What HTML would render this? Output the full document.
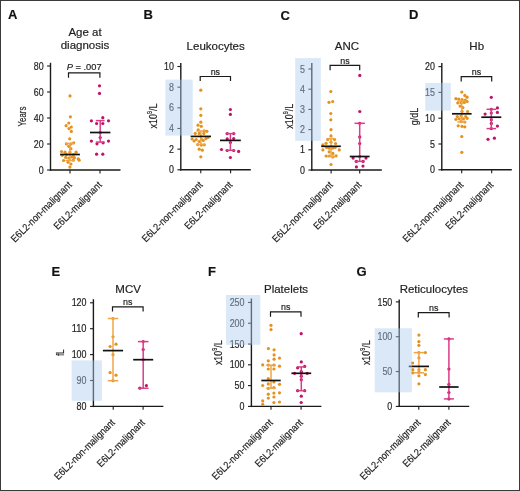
<!DOCTYPE html>
<html><head><meta charset="utf-8"><style>
html,body{margin:0;padding:0;background:#fff;}
body{width:520px;height:491px;overflow:hidden;position:relative;}
svg{position:absolute;left:0;top:0;will-change:transform;}
text{font-family:"Liberation Sans", sans-serif;fill:#222;stroke:#222;stroke-width:0.18px;}
.L{font-size:13px;font-weight:bold;fill:#111;}
.T{font-size:11.5px;}
.K{font-size:10.3px;}
.N{font-size:9.3px;}
.N2{font-size:8.9px;}
.Y{font-size:10.8px;}
.X{font-size:10.2px;}
.ax{stroke:#1a1a1a;stroke-width:1.4;fill:none;}
.tk{stroke:#1a1a1a;stroke-width:1.1;}
.br{stroke:#1a1a1a;stroke-width:1.2;fill:none;}
</style></head><body>
<svg width="520" height="491" viewBox="0 0 520 491">
<rect x="0.5" y="0.5" width="519" height="490" fill="#fff" stroke="#3a3a3a" stroke-width="1"/>
<text x="8" y="19.3" class="L">A</text>
<text x="85" y="36.4" class="T" text-anchor="middle">Age at</text>
<text x="85" y="49.2" class="T" text-anchor="middle">diagnosis</text>
<line x1="50.5" y1="62.8" x2="50.5" y2="170.7" class="ax"/>
<line x1="49.8" y1="170" x2="120.5" y2="170" class="ax"/>
<line x1="47.1" y1="170" x2="50.5" y2="170" class="tk"/>
<text x="43.6" y="173.6" class="K" text-anchor="end" textLength="4.95" lengthAdjust="spacingAndGlyphs">0</text>
<line x1="47.1" y1="144" x2="50.5" y2="144" class="tk"/>
<text x="43.6" y="147.6" class="K" text-anchor="end" textLength="9.9" lengthAdjust="spacingAndGlyphs">20</text>
<line x1="47.1" y1="118" x2="50.5" y2="118" class="tk"/>
<text x="43.6" y="121.6" class="K" text-anchor="end" textLength="9.9" lengthAdjust="spacingAndGlyphs">40</text>
<line x1="47.1" y1="92" x2="50.5" y2="92" class="tk"/>
<text x="43.6" y="95.6" class="K" text-anchor="end" textLength="9.9" lengthAdjust="spacingAndGlyphs">60</text>
<line x1="47.1" y1="66" x2="50.5" y2="66" class="tk"/>
<text x="43.6" y="69.6" class="K" text-anchor="end" textLength="9.9" lengthAdjust="spacingAndGlyphs">80</text>
<line x1="70" y1="170" x2="70" y2="173.4" class="tk"/>
<line x1="100" y1="170" x2="100" y2="173.4" class="tk"/>
<text transform="translate(26.3,116.5) rotate(-90)" class="Y" text-anchor="middle" textLength="19.8" lengthAdjust="spacingAndGlyphs">Years</text>
<text transform="translate(72.4,185.6) rotate(-45)" class="X" text-anchor="end" textLength="81.0" lengthAdjust="spacingAndGlyphs">E6L2-non-malignant</text>
<text transform="translate(102.4,185.6) rotate(-45)" class="X" text-anchor="end" textLength="63.0" lengthAdjust="spacingAndGlyphs">E6L2-malignant</text>
<path d="M68.5 77.7V72.9H99.9V77.7" class="br"/>
<text x="84.2" y="70.1" class="N" text-anchor="middle"><tspan font-style="italic">P</tspan> = .007</text>
<text x="143.6" y="19.3" class="L">B</text>
<text x="215.7" y="49.5" class="T" text-anchor="middle">Leukocytes</text>
<line x1="180.8" y1="63" x2="180.8" y2="170.5" class="ax"/>
<line x1="180.1" y1="169.8" x2="250.8" y2="169.8" class="ax"/>
<line x1="177.4" y1="169.8" x2="180.8" y2="169.8" class="tk"/>
<text x="173.9" y="173.4" class="K" text-anchor="end" textLength="4.95" lengthAdjust="spacingAndGlyphs">0</text>
<line x1="177.4" y1="149.14" x2="180.8" y2="149.14" class="tk"/>
<text x="173.9" y="152.74" class="K" text-anchor="end" textLength="4.95" lengthAdjust="spacingAndGlyphs">2</text>
<line x1="177.4" y1="128.48" x2="180.8" y2="128.48" class="tk"/>
<text x="173.9" y="132.08" class="K" text-anchor="end" textLength="4.95" lengthAdjust="spacingAndGlyphs">4</text>
<line x1="177.4" y1="107.82" x2="180.8" y2="107.82" class="tk"/>
<text x="173.9" y="111.42" class="K" text-anchor="end" textLength="4.95" lengthAdjust="spacingAndGlyphs">6</text>
<line x1="177.4" y1="87.16" x2="180.8" y2="87.16" class="tk"/>
<text x="173.9" y="90.76" class="K" text-anchor="end" textLength="4.95" lengthAdjust="spacingAndGlyphs">8</text>
<line x1="177.4" y1="66.5" x2="180.8" y2="66.5" class="tk"/>
<text x="173.9" y="70.1" class="K" text-anchor="end" textLength="9.9" lengthAdjust="spacingAndGlyphs">10</text>
<line x1="200.8" y1="169.8" x2="200.8" y2="173.2" class="tk"/>
<line x1="230.6" y1="169.8" x2="230.6" y2="173.2" class="tk"/>
<text transform="translate(157,116) rotate(-90)" class="Y" text-anchor="middle" textLength="24.8" lengthAdjust="spacingAndGlyphs">x10<tspan dy="-4.6" font-size="6.6">9</tspan><tspan dy="4.6">/L</tspan></text>
<text transform="translate(203.2,185.4) rotate(-45)" class="X" text-anchor="end" textLength="81.0" lengthAdjust="spacingAndGlyphs">E6L2-non-malignant</text>
<text transform="translate(233,185.4) rotate(-45)" class="X" text-anchor="end" textLength="63.0" lengthAdjust="spacingAndGlyphs">E6L2-malignant</text>
<path d="M200.2 81V76.5H230.5V81" class="br"/>
<text x="215.35" y="74.8" class="N2" text-anchor="middle">ns</text>
<text x="280.4" y="19.5" class="L">C</text>
<text x="346.9" y="49.5" class="T" text-anchor="middle">ANC</text>
<line x1="311.8" y1="63" x2="311.8" y2="170.7" class="ax"/>
<line x1="311.1" y1="170" x2="381.8" y2="170" class="ax"/>
<line x1="308.4" y1="170" x2="311.8" y2="170" class="tk"/>
<text x="304.9" y="173.6" class="K" text-anchor="end" textLength="4.95" lengthAdjust="spacingAndGlyphs">0</text>
<line x1="308.4" y1="149.8" x2="311.8" y2="149.8" class="tk"/>
<text x="304.9" y="153.4" class="K" text-anchor="end" textLength="4.95" lengthAdjust="spacingAndGlyphs">1</text>
<line x1="308.4" y1="129.6" x2="311.8" y2="129.6" class="tk"/>
<text x="304.9" y="133.2" class="K" text-anchor="end" textLength="4.95" lengthAdjust="spacingAndGlyphs">2</text>
<line x1="308.4" y1="109.4" x2="311.8" y2="109.4" class="tk"/>
<text x="304.9" y="113" class="K" text-anchor="end" textLength="4.95" lengthAdjust="spacingAndGlyphs">3</text>
<line x1="308.4" y1="89.2" x2="311.8" y2="89.2" class="tk"/>
<text x="304.9" y="92.8" class="K" text-anchor="end" textLength="4.95" lengthAdjust="spacingAndGlyphs">4</text>
<line x1="308.4" y1="69" x2="311.8" y2="69" class="tk"/>
<text x="304.9" y="72.6" class="K" text-anchor="end" textLength="4.95" lengthAdjust="spacingAndGlyphs">5</text>
<line x1="331.1" y1="170" x2="331.1" y2="173.4" class="tk"/>
<line x1="359.7" y1="170" x2="359.7" y2="173.4" class="tk"/>
<text transform="translate(293,116.3) rotate(-90)" class="Y" text-anchor="middle" textLength="24.8" lengthAdjust="spacingAndGlyphs">x10<tspan dy="-4.6" font-size="6.6">9</tspan><tspan dy="4.6">/L</tspan></text>
<text transform="translate(333.5,185.6) rotate(-45)" class="X" text-anchor="end" textLength="81.0" lengthAdjust="spacingAndGlyphs">E6L2-non-malignant</text>
<text transform="translate(362.1,185.6) rotate(-45)" class="X" text-anchor="end" textLength="63.0" lengthAdjust="spacingAndGlyphs">E6L2-malignant</text>
<path d="M330.1 70.2V65.4H359.7V70.2" class="br"/>
<text x="344.9" y="63.7" class="N2" text-anchor="middle">ns</text>
<text x="409" y="19.3" class="L">D</text>
<text x="476.7" y="49.5" class="T" text-anchor="middle">Hb</text>
<line x1="441.8" y1="63" x2="441.8" y2="170.5" class="ax"/>
<line x1="441.1" y1="169.8" x2="511.8" y2="169.8" class="ax"/>
<line x1="438.4" y1="169.8" x2="441.8" y2="169.8" class="tk"/>
<text x="434.9" y="173.4" class="K" text-anchor="end" textLength="4.95" lengthAdjust="spacingAndGlyphs">0</text>
<line x1="438.4" y1="144" x2="441.8" y2="144" class="tk"/>
<text x="434.9" y="147.6" class="K" text-anchor="end" textLength="4.95" lengthAdjust="spacingAndGlyphs">5</text>
<line x1="438.4" y1="118.2" x2="441.8" y2="118.2" class="tk"/>
<text x="434.9" y="121.8" class="K" text-anchor="end" textLength="9.9" lengthAdjust="spacingAndGlyphs">10</text>
<line x1="438.4" y1="92.4" x2="441.8" y2="92.4" class="tk"/>
<text x="434.9" y="96" class="K" text-anchor="end" textLength="9.9" lengthAdjust="spacingAndGlyphs">15</text>
<line x1="438.4" y1="66.6" x2="441.8" y2="66.6" class="tk"/>
<text x="434.9" y="70.2" class="K" text-anchor="end" textLength="9.9" lengthAdjust="spacingAndGlyphs">20</text>
<line x1="461.7" y1="169.8" x2="461.7" y2="173.2" class="tk"/>
<line x1="491.7" y1="169.8" x2="491.7" y2="173.2" class="tk"/>
<text transform="translate(417.6,116.6) rotate(-90)" class="Y" text-anchor="middle" textLength="17.4" lengthAdjust="spacingAndGlyphs">g/dL</text>
<text transform="translate(464.1,185.4) rotate(-45)" class="X" text-anchor="end" textLength="81.0" lengthAdjust="spacingAndGlyphs">E6L2-non-malignant</text>
<text transform="translate(494.1,185.4) rotate(-45)" class="X" text-anchor="end" textLength="63.0" lengthAdjust="spacingAndGlyphs">E6L2-malignant</text>
<path d="M461.2 81.5V76.7H491.7V81.5" class="br"/>
<text x="476.45" y="75" class="N2" text-anchor="middle">ns</text>
<text x="51.6" y="276" class="L">E</text>
<text x="128.15" y="293.2" class="T" text-anchor="middle">MCV</text>
<line x1="93.4" y1="299.2" x2="93.4" y2="407.1" class="ax"/>
<line x1="92.7" y1="406.4" x2="163.4" y2="406.4" class="ax"/>
<line x1="90" y1="406.4" x2="93.4" y2="406.4" class="tk"/>
<text x="86.5" y="410" class="K" text-anchor="end" textLength="9.9" lengthAdjust="spacingAndGlyphs">80</text>
<line x1="90" y1="380.5" x2="93.4" y2="380.5" class="tk"/>
<text x="86.5" y="384.1" class="K" text-anchor="end" textLength="9.9" lengthAdjust="spacingAndGlyphs">90</text>
<line x1="90" y1="354.6" x2="93.4" y2="354.6" class="tk"/>
<text x="86.5" y="358.2" class="K" text-anchor="end" textLength="14.85" lengthAdjust="spacingAndGlyphs">100</text>
<line x1="90" y1="328.7" x2="93.4" y2="328.7" class="tk"/>
<text x="86.5" y="332.3" class="K" text-anchor="end" textLength="14.85" lengthAdjust="spacingAndGlyphs">110</text>
<line x1="90" y1="302.8" x2="93.4" y2="302.8" class="tk"/>
<text x="86.5" y="306.4" class="K" text-anchor="end" textLength="14.85" lengthAdjust="spacingAndGlyphs">120</text>
<line x1="113.2" y1="406.4" x2="113.2" y2="409.8" class="tk"/>
<line x1="143.1" y1="406.4" x2="143.1" y2="409.8" class="tk"/>
<text transform="translate(63.5,352.7) rotate(-90)" class="Y" text-anchor="middle" textLength="6.2" lengthAdjust="spacingAndGlyphs">fL</text>
<text transform="translate(115.6,423.2) rotate(-45)" class="X" text-anchor="end" textLength="81.0" lengthAdjust="spacingAndGlyphs">E6L2-non-malignant</text>
<text transform="translate(145.5,423.2) rotate(-45)" class="X" text-anchor="end" textLength="63.0" lengthAdjust="spacingAndGlyphs">E6L2-malignant</text>
<path d="M112.5 311.5V306.9H143.1V311.5" class="br"/>
<text x="127.8" y="305.2" class="N2" text-anchor="middle">ns</text>
<text x="208" y="276" class="L">F</text>
<text x="286.05" y="292.7" class="T" text-anchor="middle">Platelets</text>
<line x1="251.4" y1="298.5" x2="251.4" y2="407.1" class="ax"/>
<line x1="250.7" y1="406.4" x2="321.4" y2="406.4" class="ax"/>
<line x1="248" y1="406.4" x2="251.4" y2="406.4" class="tk"/>
<text x="244.5" y="410" class="K" text-anchor="end" textLength="4.95" lengthAdjust="spacingAndGlyphs">0</text>
<line x1="248" y1="385.61" x2="251.4" y2="385.61" class="tk"/>
<text x="244.5" y="389.21" class="K" text-anchor="end" textLength="9.9" lengthAdjust="spacingAndGlyphs">50</text>
<line x1="248" y1="364.82" x2="251.4" y2="364.82" class="tk"/>
<text x="244.5" y="368.42" class="K" text-anchor="end" textLength="14.85" lengthAdjust="spacingAndGlyphs">100</text>
<line x1="248" y1="344.03" x2="251.4" y2="344.03" class="tk"/>
<text x="244.5" y="347.63" class="K" text-anchor="end" textLength="14.85" lengthAdjust="spacingAndGlyphs">150</text>
<line x1="248" y1="323.24" x2="251.4" y2="323.24" class="tk"/>
<text x="244.5" y="326.84" class="K" text-anchor="end" textLength="14.85" lengthAdjust="spacingAndGlyphs">200</text>
<line x1="248" y1="302.45" x2="251.4" y2="302.45" class="tk"/>
<text x="244.5" y="306.05" class="K" text-anchor="end" textLength="14.85" lengthAdjust="spacingAndGlyphs">250</text>
<line x1="271" y1="406.4" x2="271" y2="409.8" class="tk"/>
<line x1="301.1" y1="406.4" x2="301.1" y2="409.8" class="tk"/>
<text transform="translate(222,352.7) rotate(-90)" class="Y" text-anchor="middle" textLength="24.8" lengthAdjust="spacingAndGlyphs">x10<tspan dy="-4.6" font-size="6.6">9</tspan><tspan dy="4.6">/L</tspan></text>
<text transform="translate(273.4,423.2) rotate(-45)" class="X" text-anchor="end" textLength="81.0" lengthAdjust="spacingAndGlyphs">E6L2-non-malignant</text>
<text transform="translate(303.5,423.2) rotate(-45)" class="X" text-anchor="end" textLength="63.0" lengthAdjust="spacingAndGlyphs">E6L2-malignant</text>
<path d="M270.5 316.7V311.9H301V316.7" class="br"/>
<text x="285.75" y="310.2" class="N2" text-anchor="middle">ns</text>
<text x="356.6" y="276" class="L">G</text>
<text x="433.85" y="292.8" class="T" text-anchor="middle">Reticulocytes</text>
<line x1="399.2" y1="299.5" x2="399.2" y2="407.1" class="ax"/>
<line x1="398.5" y1="406.4" x2="469.2" y2="406.4" class="ax"/>
<line x1="395.8" y1="406.4" x2="399.2" y2="406.4" class="tk"/>
<text x="392.3" y="410" class="K" text-anchor="end" textLength="4.95" lengthAdjust="spacingAndGlyphs">0</text>
<line x1="395.8" y1="371.56" x2="399.2" y2="371.56" class="tk"/>
<text x="392.3" y="375.17" class="K" text-anchor="end" textLength="9.9" lengthAdjust="spacingAndGlyphs">50</text>
<line x1="395.8" y1="336.73" x2="399.2" y2="336.73" class="tk"/>
<text x="392.3" y="340.33" class="K" text-anchor="end" textLength="14.85" lengthAdjust="spacingAndGlyphs">100</text>
<line x1="395.8" y1="301.89" x2="399.2" y2="301.89" class="tk"/>
<text x="392.3" y="305.5" class="K" text-anchor="end" textLength="14.85" lengthAdjust="spacingAndGlyphs">150</text>
<line x1="418.8" y1="406.4" x2="418.8" y2="409.8" class="tk"/>
<line x1="448.9" y1="406.4" x2="448.9" y2="409.8" class="tk"/>
<text transform="translate(370,352.7) rotate(-90)" class="Y" text-anchor="middle" textLength="24.8" lengthAdjust="spacingAndGlyphs">x10<tspan dy="-4.6" font-size="6.6">9</tspan><tspan dy="4.6">/L</tspan></text>
<text transform="translate(421.2,423.2) rotate(-45)" class="X" text-anchor="end" textLength="81.0" lengthAdjust="spacingAndGlyphs">E6L2-non-malignant</text>
<text transform="translate(451.3,423.2) rotate(-45)" class="X" text-anchor="end" textLength="63.0" lengthAdjust="spacingAndGlyphs">E6L2-malignant</text>
<path d="M418.3 317.5V312.7H449.1V317.5" class="br"/>
<text x="433.7" y="311" class="N2" text-anchor="middle">ns</text>
<circle cx="70" cy="95.9" r="1.6" fill="#e3921f"/>
<circle cx="70.4" cy="116.8" r="1.6" fill="#e3921f"/>
<circle cx="68.8" cy="123" r="1.6" fill="#e3921f"/>
<circle cx="66.1" cy="125.7" r="1.6" fill="#e3921f"/>
<circle cx="71.3" cy="127" r="1.6" fill="#e3921f"/>
<circle cx="69" cy="128.6" r="1.6" fill="#e3921f"/>
<circle cx="71.3" cy="131.4" r="1.6" fill="#e3921f"/>
<circle cx="69.7" cy="138.8" r="1.6" fill="#e3921f"/>
<circle cx="66.4" cy="143.9" r="1.6" fill="#e3921f"/>
<circle cx="70.9" cy="143.9" r="1.6" fill="#e3921f"/>
<circle cx="73.7" cy="142.8" r="1.6" fill="#e3921f"/>
<circle cx="68.8" cy="146.3" r="1.6" fill="#e3921f"/>
<circle cx="70.9" cy="148.7" r="1.6" fill="#e3921f"/>
<circle cx="61.5" cy="151.5" r="1.6" fill="#e3921f"/>
<circle cx="76.1" cy="152.2" r="1.6" fill="#e3921f"/>
<circle cx="65" cy="152.2" r="1.6" fill="#e3921f"/>
<circle cx="69.9" cy="152.2" r="1.6" fill="#e3921f"/>
<circle cx="62.2" cy="155.3" r="1.6" fill="#e3921f"/>
<circle cx="65.7" cy="157.4" r="1.6" fill="#e3921f"/>
<circle cx="68.8" cy="158.1" r="1.6" fill="#e3921f"/>
<circle cx="71.9" cy="157" r="1.6" fill="#e3921f"/>
<circle cx="74.4" cy="157.7" r="1.6" fill="#e3921f"/>
<circle cx="78.2" cy="158.8" r="1.6" fill="#e3921f"/>
<circle cx="79.2" cy="160.2" r="1.6" fill="#e3921f"/>
<circle cx="73.3" cy="160.2" r="1.6" fill="#e3921f"/>
<circle cx="63.6" cy="160.5" r="1.6" fill="#e3921f"/>
<circle cx="68.1" cy="162.2" r="1.6" fill="#e3921f"/>
<circle cx="70.9" cy="164" r="1.6" fill="#e3921f"/>
<circle cx="69.9" cy="167.1" r="1.6" fill="#e3921f"/>
<circle cx="66.5" cy="154.6" r="1.6" fill="#e3921f"/>
<circle cx="73.5" cy="154.6" r="1.6" fill="#e3921f"/>
<circle cx="99.5" cy="85.8" r="1.6" fill="#c01366"/>
<circle cx="99.5" cy="93.4" r="1.6" fill="#c01366"/>
<circle cx="102.8" cy="117.7" r="1.6" fill="#c01366"/>
<circle cx="91.4" cy="120.8" r="1.6" fill="#c01366"/>
<circle cx="108.5" cy="120.8" r="1.6" fill="#c01366"/>
<circle cx="96.6" cy="123.5" r="1.6" fill="#c01366"/>
<circle cx="102.8" cy="123.5" r="1.6" fill="#c01366"/>
<circle cx="100.2" cy="132.5" r="1.6" fill="#c01366"/>
<circle cx="100.2" cy="137.6" r="1.6" fill="#c01366"/>
<circle cx="91.4" cy="141.1" r="1.6" fill="#c01366"/>
<circle cx="108.5" cy="141.1" r="1.6" fill="#c01366"/>
<circle cx="97" cy="143.8" r="1.6" fill="#c01366"/>
<circle cx="103.1" cy="142.8" r="1.6" fill="#c01366"/>
<circle cx="96.6" cy="154.2" r="1.6" fill="#c01366"/>
<circle cx="102.8" cy="154.2" r="1.6" fill="#c01366"/>
<line x1="70" y1="143.5" x2="70" y2="160.5" stroke="#f0a444" stroke-width="1.5"/>
<line x1="65.6" y1="143.5" x2="74.4" y2="143.5" stroke="#f0a444" stroke-width="1.5"/>
<line x1="65.6" y1="160.5" x2="74.4" y2="160.5" stroke="#f0a444" stroke-width="1.5"/>
<line x1="100.2" y1="120.6" x2="100.2" y2="142.1" stroke="#da3d88" stroke-width="1.5"/>
<line x1="95.8" y1="120.6" x2="104.6" y2="120.6" stroke="#da3d88" stroke-width="1.5"/>
<line x1="95.8" y1="142.1" x2="104.6" y2="142.1" stroke="#da3d88" stroke-width="1.5"/>
<line x1="60.1" y1="154.5" x2="79.9" y2="154.5" stroke="#111" stroke-width="1.7"/>
<line x1="90" y1="132.5" x2="110.4" y2="132.5" stroke="#111" stroke-width="1.7"/>
<circle cx="200.8" cy="90.2" r="1.6" fill="#e3921f"/>
<circle cx="200.8" cy="108.8" r="1.6" fill="#e3921f"/>
<circle cx="200.8" cy="115.3" r="1.6" fill="#e3921f"/>
<circle cx="200.8" cy="122.2" r="1.6" fill="#e3921f"/>
<circle cx="198" cy="125.2" r="1.6" fill="#e3921f"/>
<circle cx="201.3" cy="126.3" r="1.6" fill="#e3921f"/>
<circle cx="198.2" cy="129.8" r="1.6" fill="#e3921f"/>
<circle cx="204.3" cy="130.8" r="1.6" fill="#e3921f"/>
<circle cx="206.9" cy="131.3" r="1.6" fill="#e3921f"/>
<circle cx="195.2" cy="133.4" r="1.6" fill="#e3921f"/>
<circle cx="199.2" cy="133.4" r="1.6" fill="#e3921f"/>
<circle cx="203.8" cy="133.4" r="1.6" fill="#e3921f"/>
<circle cx="192.1" cy="139" r="1.6" fill="#e3921f"/>
<circle cx="196.2" cy="139.5" r="1.6" fill="#e3921f"/>
<circle cx="201.3" cy="139" r="1.6" fill="#e3921f"/>
<circle cx="205.9" cy="138.7" r="1.6" fill="#e3921f"/>
<circle cx="194.1" cy="141" r="1.6" fill="#e3921f"/>
<circle cx="199.2" cy="141.5" r="1.6" fill="#e3921f"/>
<circle cx="203.3" cy="140.5" r="1.6" fill="#e3921f"/>
<circle cx="197.7" cy="144.6" r="1.6" fill="#e3921f"/>
<circle cx="201.3" cy="145.1" r="1.6" fill="#e3921f"/>
<circle cx="204.3" cy="144.8" r="1.6" fill="#e3921f"/>
<circle cx="199.2" cy="149.2" r="1.6" fill="#e3921f"/>
<circle cx="202.3" cy="150.2" r="1.6" fill="#e3921f"/>
<circle cx="200.8" cy="156.8" r="1.6" fill="#e3921f"/>
<circle cx="208" cy="137.5" r="1.6" fill="#e3921f"/>
<circle cx="230.4" cy="109.5" r="1.6" fill="#c01366"/>
<circle cx="230.4" cy="114.4" r="1.6" fill="#c01366"/>
<circle cx="227.2" cy="133.6" r="1.6" fill="#c01366"/>
<circle cx="233.7" cy="133.6" r="1.6" fill="#c01366"/>
<circle cx="227.2" cy="138.8" r="1.6" fill="#c01366"/>
<circle cx="233.7" cy="138.5" r="1.6" fill="#c01366"/>
<circle cx="230.4" cy="142.5" r="1.6" fill="#c01366"/>
<circle cx="221.5" cy="149.5" r="1.6" fill="#c01366"/>
<circle cx="227.2" cy="150.5" r="1.6" fill="#c01366"/>
<circle cx="233.7" cy="150.5" r="1.6" fill="#c01366"/>
<circle cx="238.6" cy="151.4" r="1.6" fill="#c01366"/>
<circle cx="230.4" cy="157.5" r="1.6" fill="#c01366"/>
<line x1="200.8" y1="131" x2="200.8" y2="144.5" stroke="#f0a444" stroke-width="1.5"/>
<line x1="196.4" y1="131" x2="205.2" y2="131" stroke="#f0a444" stroke-width="1.5"/>
<line x1="196.4" y1="144.5" x2="205.2" y2="144.5" stroke="#f0a444" stroke-width="1.5"/>
<line x1="230.4" y1="133.6" x2="230.4" y2="150.3" stroke="#da3d88" stroke-width="1.5"/>
<line x1="225.6" y1="133.6" x2="235.2" y2="133.6" stroke="#da3d88" stroke-width="1.5"/>
<line x1="225.6" y1="150.3" x2="235.2" y2="150.3" stroke="#da3d88" stroke-width="1.5"/>
<line x1="190.6" y1="136.4" x2="211" y2="136.4" stroke="#111" stroke-width="1.7"/>
<line x1="220" y1="140.4" x2="240.8" y2="140.4" stroke="#111" stroke-width="1.7"/>
<circle cx="330.8" cy="91.5" r="1.6" fill="#e3921f"/>
<circle cx="329" cy="102.3" r="1.6" fill="#e3921f"/>
<circle cx="332.7" cy="101.5" r="1.6" fill="#e3921f"/>
<circle cx="330.8" cy="113.5" r="1.6" fill="#e3921f"/>
<circle cx="330.8" cy="119.8" r="1.6" fill="#e3921f"/>
<circle cx="331" cy="129.7" r="1.6" fill="#e3921f"/>
<circle cx="331" cy="135.9" r="1.6" fill="#e3921f"/>
<circle cx="327.7" cy="139.6" r="1.6" fill="#e3921f"/>
<circle cx="334.5" cy="139.6" r="1.6" fill="#e3921f"/>
<circle cx="326.1" cy="143.3" r="1.6" fill="#e3921f"/>
<circle cx="335.6" cy="143.5" r="1.6" fill="#e3921f"/>
<circle cx="322.9" cy="144.9" r="1.6" fill="#e3921f"/>
<circle cx="331" cy="142.2" r="1.6" fill="#e3921f"/>
<circle cx="326.6" cy="147.5" r="1.6" fill="#e3921f"/>
<circle cx="329.2" cy="148.2" r="1.6" fill="#e3921f"/>
<circle cx="332.4" cy="148.2" r="1.6" fill="#e3921f"/>
<circle cx="335.1" cy="147.5" r="1.6" fill="#e3921f"/>
<circle cx="322.9" cy="149.9" r="1.6" fill="#e3921f"/>
<circle cx="339.3" cy="149.9" r="1.6" fill="#e3921f"/>
<circle cx="329.2" cy="151.8" r="1.6" fill="#e3921f"/>
<circle cx="332.9" cy="153.4" r="1.6" fill="#e3921f"/>
<circle cx="326.1" cy="156" r="1.6" fill="#e3921f"/>
<circle cx="329.2" cy="156" r="1.6" fill="#e3921f"/>
<circle cx="332.9" cy="156.9" r="1.6" fill="#e3921f"/>
<circle cx="336.1" cy="155.8" r="1.6" fill="#e3921f"/>
<circle cx="331" cy="164.5" r="1.6" fill="#e3921f"/>
<circle cx="359.8" cy="75.4" r="1.6" fill="#c01366"/>
<circle cx="359.8" cy="111.5" r="1.6" fill="#c01366"/>
<circle cx="359.7" cy="123.3" r="1.6" fill="#c01366"/>
<circle cx="359.7" cy="136.9" r="1.6" fill="#c01366"/>
<circle cx="359.7" cy="143.5" r="1.6" fill="#c01366"/>
<circle cx="353.1" cy="158.1" r="1.6" fill="#c01366"/>
<circle cx="366" cy="158.1" r="1.6" fill="#c01366"/>
<circle cx="356.4" cy="161.4" r="1.6" fill="#c01366"/>
<circle cx="363" cy="161.4" r="1.6" fill="#c01366"/>
<circle cx="356.4" cy="166.9" r="1.6" fill="#c01366"/>
<circle cx="363" cy="166.1" r="1.6" fill="#c01366"/>
<circle cx="359.7" cy="156.5" r="1.6" fill="#c01366"/>
<line x1="331" y1="138.6" x2="331" y2="156.5" stroke="#f0a444" stroke-width="1.5"/>
<line x1="326.6" y1="138.6" x2="335.4" y2="138.6" stroke="#f0a444" stroke-width="1.5"/>
<line x1="326.6" y1="156.5" x2="335.4" y2="156.5" stroke="#f0a444" stroke-width="1.5"/>
<line x1="359.7" y1="123.3" x2="359.7" y2="161.4" stroke="#da3d88" stroke-width="1.5"/>
<line x1="354.5" y1="123.3" x2="364.9" y2="123.3" stroke="#da3d88" stroke-width="1.5"/>
<line x1="354.5" y1="161.4" x2="364.9" y2="161.4" stroke="#da3d88" stroke-width="1.5"/>
<line x1="321.2" y1="146.3" x2="340.8" y2="146.3" stroke="#111" stroke-width="1.7"/>
<line x1="349.8" y1="156.5" x2="369.6" y2="156.5" stroke="#111" stroke-width="1.7"/>
<circle cx="461.8" cy="92.1" r="1.6" fill="#e3921f"/>
<circle cx="464.8" cy="95.4" r="1.6" fill="#e3921f"/>
<circle cx="467.1" cy="97.2" r="1.6" fill="#e3921f"/>
<circle cx="455.9" cy="98.7" r="1.6" fill="#e3921f"/>
<circle cx="458.7" cy="99.1" r="1.6" fill="#e3921f"/>
<circle cx="462" cy="99.6" r="1.6" fill="#e3921f"/>
<circle cx="465.3" cy="100.1" r="1.6" fill="#e3921f"/>
<circle cx="457.8" cy="102.9" r="1.6" fill="#e3921f"/>
<circle cx="461.1" cy="102.7" r="1.6" fill="#e3921f"/>
<circle cx="464.3" cy="102.4" r="1.6" fill="#e3921f"/>
<circle cx="467.1" cy="101.5" r="1.6" fill="#e3921f"/>
<circle cx="460.1" cy="106.1" r="1.6" fill="#e3921f"/>
<circle cx="462.9" cy="107.6" r="1.6" fill="#e3921f"/>
<circle cx="462" cy="111.3" r="1.6" fill="#e3921f"/>
<circle cx="467.6" cy="111.5" r="1.6" fill="#e3921f"/>
<circle cx="457.3" cy="116.5" r="1.6" fill="#e3921f"/>
<circle cx="461.1" cy="116" r="1.6" fill="#e3921f"/>
<circle cx="465.7" cy="116.5" r="1.6" fill="#e3921f"/>
<circle cx="455.9" cy="119.3" r="1.6" fill="#e3921f"/>
<circle cx="459.2" cy="118.8" r="1.6" fill="#e3921f"/>
<circle cx="463.4" cy="118.8" r="1.6" fill="#e3921f"/>
<circle cx="467.1" cy="118.3" r="1.6" fill="#e3921f"/>
<circle cx="461.1" cy="121.6" r="1.6" fill="#e3921f"/>
<circle cx="464.8" cy="122.1" r="1.6" fill="#e3921f"/>
<circle cx="458.2" cy="125.8" r="1.6" fill="#e3921f"/>
<circle cx="462" cy="126.3" r="1.6" fill="#e3921f"/>
<circle cx="464.8" cy="126.8" r="1.6" fill="#e3921f"/>
<circle cx="461.8" cy="136.5" r="1.6" fill="#e3921f"/>
<circle cx="461.8" cy="152.3" r="1.6" fill="#e3921f"/>
<circle cx="491.3" cy="97.3" r="1.6" fill="#c01366"/>
<circle cx="491.3" cy="109.3" r="1.6" fill="#c01366"/>
<circle cx="497.4" cy="107.9" r="1.6" fill="#c01366"/>
<circle cx="497.4" cy="112.4" r="1.6" fill="#c01366"/>
<circle cx="491.3" cy="113" r="1.6" fill="#c01366"/>
<circle cx="485.1" cy="114.1" r="1.6" fill="#c01366"/>
<circle cx="491.3" cy="119.7" r="1.6" fill="#c01366"/>
<circle cx="491.3" cy="123.4" r="1.6" fill="#c01366"/>
<circle cx="497.4" cy="126.1" r="1.6" fill="#c01366"/>
<circle cx="491.3" cy="128.6" r="1.6" fill="#c01366"/>
<circle cx="488" cy="139.3" r="1.6" fill="#c01366"/>
<circle cx="494.4" cy="138.2" r="1.6" fill="#c01366"/>
<line x1="461.8" y1="101" x2="461.8" y2="122" stroke="#f0a444" stroke-width="1.5"/>
<line x1="457.4" y1="101" x2="466.2" y2="101" stroke="#f0a444" stroke-width="1.5"/>
<line x1="457.4" y1="122" x2="466.2" y2="122" stroke="#f0a444" stroke-width="1.5"/>
<line x1="491.3" y1="109.3" x2="491.3" y2="128.6" stroke="#da3d88" stroke-width="1.5"/>
<line x1="486.5" y1="109.3" x2="496.1" y2="109.3" stroke="#da3d88" stroke-width="1.5"/>
<line x1="486.5" y1="128.6" x2="496.1" y2="128.6" stroke="#da3d88" stroke-width="1.5"/>
<line x1="452" y1="113.8" x2="471.6" y2="113.8" stroke="#111" stroke-width="1.7"/>
<line x1="481.3" y1="117.2" x2="501.3" y2="117.2" stroke="#111" stroke-width="1.7"/>
<circle cx="113" cy="318.5" r="1.6" fill="#e3921f"/>
<circle cx="113" cy="336.8" r="1.6" fill="#e3921f"/>
<circle cx="110.1" cy="346.5" r="1.6" fill="#e3921f"/>
<circle cx="116" cy="344.2" r="1.6" fill="#e3921f"/>
<circle cx="113" cy="354.7" r="1.6" fill="#e3921f"/>
<circle cx="110.1" cy="372.6" r="1.6" fill="#e3921f"/>
<circle cx="116" cy="375.2" r="1.6" fill="#e3921f"/>
<circle cx="113" cy="380.7" r="1.6" fill="#e3921f"/>
<circle cx="143.2" cy="341.6" r="1.6" fill="#c01366"/>
<circle cx="143.2" cy="349.5" r="1.6" fill="#c01366"/>
<circle cx="143.2" cy="359.7" r="1.6" fill="#c01366"/>
<circle cx="146.4" cy="385.6" r="1.6" fill="#c01366"/>
<circle cx="139.9" cy="388.2" r="1.6" fill="#c01366"/>
<line x1="113" y1="318.5" x2="113" y2="380.7" stroke="#f0a444" stroke-width="1.5"/>
<line x1="107.8" y1="318.5" x2="118.2" y2="318.5" stroke="#f0a444" stroke-width="1.5"/>
<line x1="107.8" y1="380.7" x2="118.2" y2="380.7" stroke="#f0a444" stroke-width="1.5"/>
<line x1="143.2" y1="341.6" x2="143.2" y2="388.2" stroke="#da3d88" stroke-width="1.5"/>
<line x1="137.9" y1="341.6" x2="148.5" y2="341.6" stroke="#da3d88" stroke-width="1.5"/>
<line x1="137.9" y1="388.2" x2="148.5" y2="388.2" stroke="#da3d88" stroke-width="1.5"/>
<line x1="102.9" y1="350.6" x2="123.1" y2="350.6" stroke="#111" stroke-width="1.7"/>
<line x1="133.2" y1="359.7" x2="153.2" y2="359.7" stroke="#111" stroke-width="1.7"/>
<circle cx="271" cy="325.3" r="1.6" fill="#e3921f"/>
<circle cx="271" cy="329.6" r="1.6" fill="#e3921f"/>
<circle cx="268.4" cy="348.6" r="1.6" fill="#e3921f"/>
<circle cx="274.1" cy="349.8" r="1.6" fill="#e3921f"/>
<circle cx="274.1" cy="354.9" r="1.6" fill="#e3921f"/>
<circle cx="279.5" cy="358.1" r="1.6" fill="#e3921f"/>
<circle cx="274.1" cy="359.2" r="1.6" fill="#e3921f"/>
<circle cx="268.3" cy="360.8" r="1.6" fill="#e3921f"/>
<circle cx="262.7" cy="364.9" r="1.6" fill="#e3921f"/>
<circle cx="268.3" cy="365.1" r="1.6" fill="#e3921f"/>
<circle cx="273.9" cy="365.1" r="1.6" fill="#e3921f"/>
<circle cx="279.5" cy="366.2" r="1.6" fill="#e3921f"/>
<circle cx="268.3" cy="369" r="1.6" fill="#e3921f"/>
<circle cx="273.9" cy="369" r="1.6" fill="#e3921f"/>
<circle cx="268.3" cy="378.5" r="1.6" fill="#e3921f"/>
<circle cx="268.3" cy="383.9" r="1.6" fill="#e3921f"/>
<circle cx="273.9" cy="381.9" r="1.6" fill="#e3921f"/>
<circle cx="279.5" cy="384.3" r="1.6" fill="#e3921f"/>
<circle cx="262.7" cy="385.5" r="1.6" fill="#e3921f"/>
<circle cx="268.3" cy="388.4" r="1.6" fill="#e3921f"/>
<circle cx="273.9" cy="387.7" r="1.6" fill="#e3921f"/>
<circle cx="268.3" cy="394.2" r="1.6" fill="#e3921f"/>
<circle cx="273.9" cy="393.1" r="1.6" fill="#e3921f"/>
<circle cx="279.5" cy="392.8" r="1.6" fill="#e3921f"/>
<circle cx="268.3" cy="398.1" r="1.6" fill="#e3921f"/>
<circle cx="273.9" cy="397" r="1.6" fill="#e3921f"/>
<circle cx="262.7" cy="400.9" r="1.6" fill="#e3921f"/>
<circle cx="262.7" cy="404.3" r="1.6" fill="#e3921f"/>
<circle cx="273.9" cy="402.6" r="1.6" fill="#e3921f"/>
<circle cx="279.5" cy="402" r="1.6" fill="#e3921f"/>
<circle cx="301.2" cy="333.7" r="1.6" fill="#c01366"/>
<circle cx="301.3" cy="361.9" r="1.6" fill="#c01366"/>
<circle cx="297.6" cy="367.8" r="1.6" fill="#c01366"/>
<circle cx="304.7" cy="366.4" r="1.6" fill="#c01366"/>
<circle cx="301.3" cy="371.5" r="1.6" fill="#c01366"/>
<circle cx="294.6" cy="373.3" r="1.6" fill="#c01366"/>
<circle cx="307.2" cy="373.3" r="1.6" fill="#c01366"/>
<circle cx="301.3" cy="373.3" r="1.6" fill="#c01366"/>
<circle cx="301.3" cy="376.2" r="1.6" fill="#c01366"/>
<circle cx="301.3" cy="379.7" r="1.6" fill="#c01366"/>
<circle cx="297.6" cy="390.7" r="1.6" fill="#c01366"/>
<circle cx="304.7" cy="390.7" r="1.6" fill="#c01366"/>
<circle cx="301.3" cy="396.2" r="1.6" fill="#c01366"/>
<circle cx="301.2" cy="402.5" r="1.6" fill="#c01366"/>
<line x1="271" y1="365.3" x2="271" y2="388.3" stroke="#f0a444" stroke-width="1.5"/>
<line x1="266.2" y1="365.3" x2="275.8" y2="365.3" stroke="#f0a444" stroke-width="1.5"/>
<line x1="266.2" y1="388.3" x2="275.8" y2="388.3" stroke="#f0a444" stroke-width="1.5"/>
<line x1="301.3" y1="366.9" x2="301.3" y2="390.7" stroke="#da3d88" stroke-width="1.5"/>
<line x1="297.1" y1="366.9" x2="305.5" y2="366.9" stroke="#da3d88" stroke-width="1.5"/>
<line x1="297.1" y1="390.7" x2="305.5" y2="390.7" stroke="#da3d88" stroke-width="1.5"/>
<line x1="261.3" y1="380.5" x2="280.7" y2="380.5" stroke="#111" stroke-width="1.7"/>
<line x1="291.4" y1="373.3" x2="311.2" y2="373.3" stroke="#111" stroke-width="1.7"/>
<circle cx="418.9" cy="335.1" r="1.6" fill="#e3921f"/>
<circle cx="418.9" cy="341.6" r="1.6" fill="#e3921f"/>
<circle cx="418.9" cy="345.3" r="1.6" fill="#e3921f"/>
<circle cx="418.9" cy="352.6" r="1.6" fill="#e3921f"/>
<circle cx="425.4" cy="352.6" r="1.6" fill="#e3921f"/>
<circle cx="418.9" cy="357.9" r="1.6" fill="#e3921f"/>
<circle cx="412.6" cy="363" r="1.6" fill="#e3921f"/>
<circle cx="412.8" cy="369.7" r="1.6" fill="#e3921f"/>
<circle cx="425.4" cy="369.7" r="1.6" fill="#e3921f"/>
<circle cx="418.9" cy="369.7" r="1.6" fill="#e3921f"/>
<circle cx="412.8" cy="372.8" r="1.6" fill="#e3921f"/>
<circle cx="418.9" cy="372.2" r="1.6" fill="#e3921f"/>
<circle cx="425.4" cy="374.6" r="1.6" fill="#e3921f"/>
<circle cx="418.9" cy="375.8" r="1.6" fill="#e3921f"/>
<circle cx="418.9" cy="383.8" r="1.6" fill="#e3921f"/>
<circle cx="448.9" cy="338.9" r="1.6" fill="#c01366"/>
<circle cx="448.9" cy="369" r="1.6" fill="#c01366"/>
<circle cx="448.9" cy="384.4" r="1.6" fill="#c01366"/>
<circle cx="448.9" cy="392.5" r="1.6" fill="#c01366"/>
<circle cx="448.9" cy="398.9" r="1.6" fill="#c01366"/>
<line x1="418.9" y1="352.6" x2="418.9" y2="372.8" stroke="#f0a444" stroke-width="1.5"/>
<line x1="413.7" y1="352.6" x2="424.1" y2="352.6" stroke="#f0a444" stroke-width="1.5"/>
<line x1="413.7" y1="372.8" x2="424.1" y2="372.8" stroke="#f0a444" stroke-width="1.5"/>
<line x1="448.9" y1="338.9" x2="448.9" y2="398.9" stroke="#da3d88" stroke-width="1.5"/>
<line x1="443.9" y1="338.9" x2="453.9" y2="338.9" stroke="#da3d88" stroke-width="1.5"/>
<line x1="443.9" y1="398.9" x2="453.9" y2="398.9" stroke="#da3d88" stroke-width="1.5"/>
<line x1="408.8" y1="366.4" x2="429" y2="366.4" stroke="#111" stroke-width="1.7"/>
<line x1="439.2" y1="387" x2="458.6" y2="387" stroke="#111" stroke-width="1.7"/>
<rect x="165.4" y="79.6" width="27.3" height="56" fill="rgba(172,204,238,0.45)"/>
<rect x="295.2" y="58.1" width="25.6" height="82.7" fill="rgba(172,204,238,0.45)"/>
<rect x="425.3" y="82.9" width="25.5" height="27.7" fill="rgba(172,204,238,0.45)"/>
<rect x="71.6" y="360.4" width="30.3" height="40.4" fill="rgba(172,204,238,0.45)"/>
<rect x="226" y="295" width="34.3" height="49.8" fill="rgba(172,204,238,0.45)"/>
<rect x="374.7" y="328.3" width="37.2" height="64" fill="rgba(172,204,238,0.45)"/>
</svg>
</body></html>
